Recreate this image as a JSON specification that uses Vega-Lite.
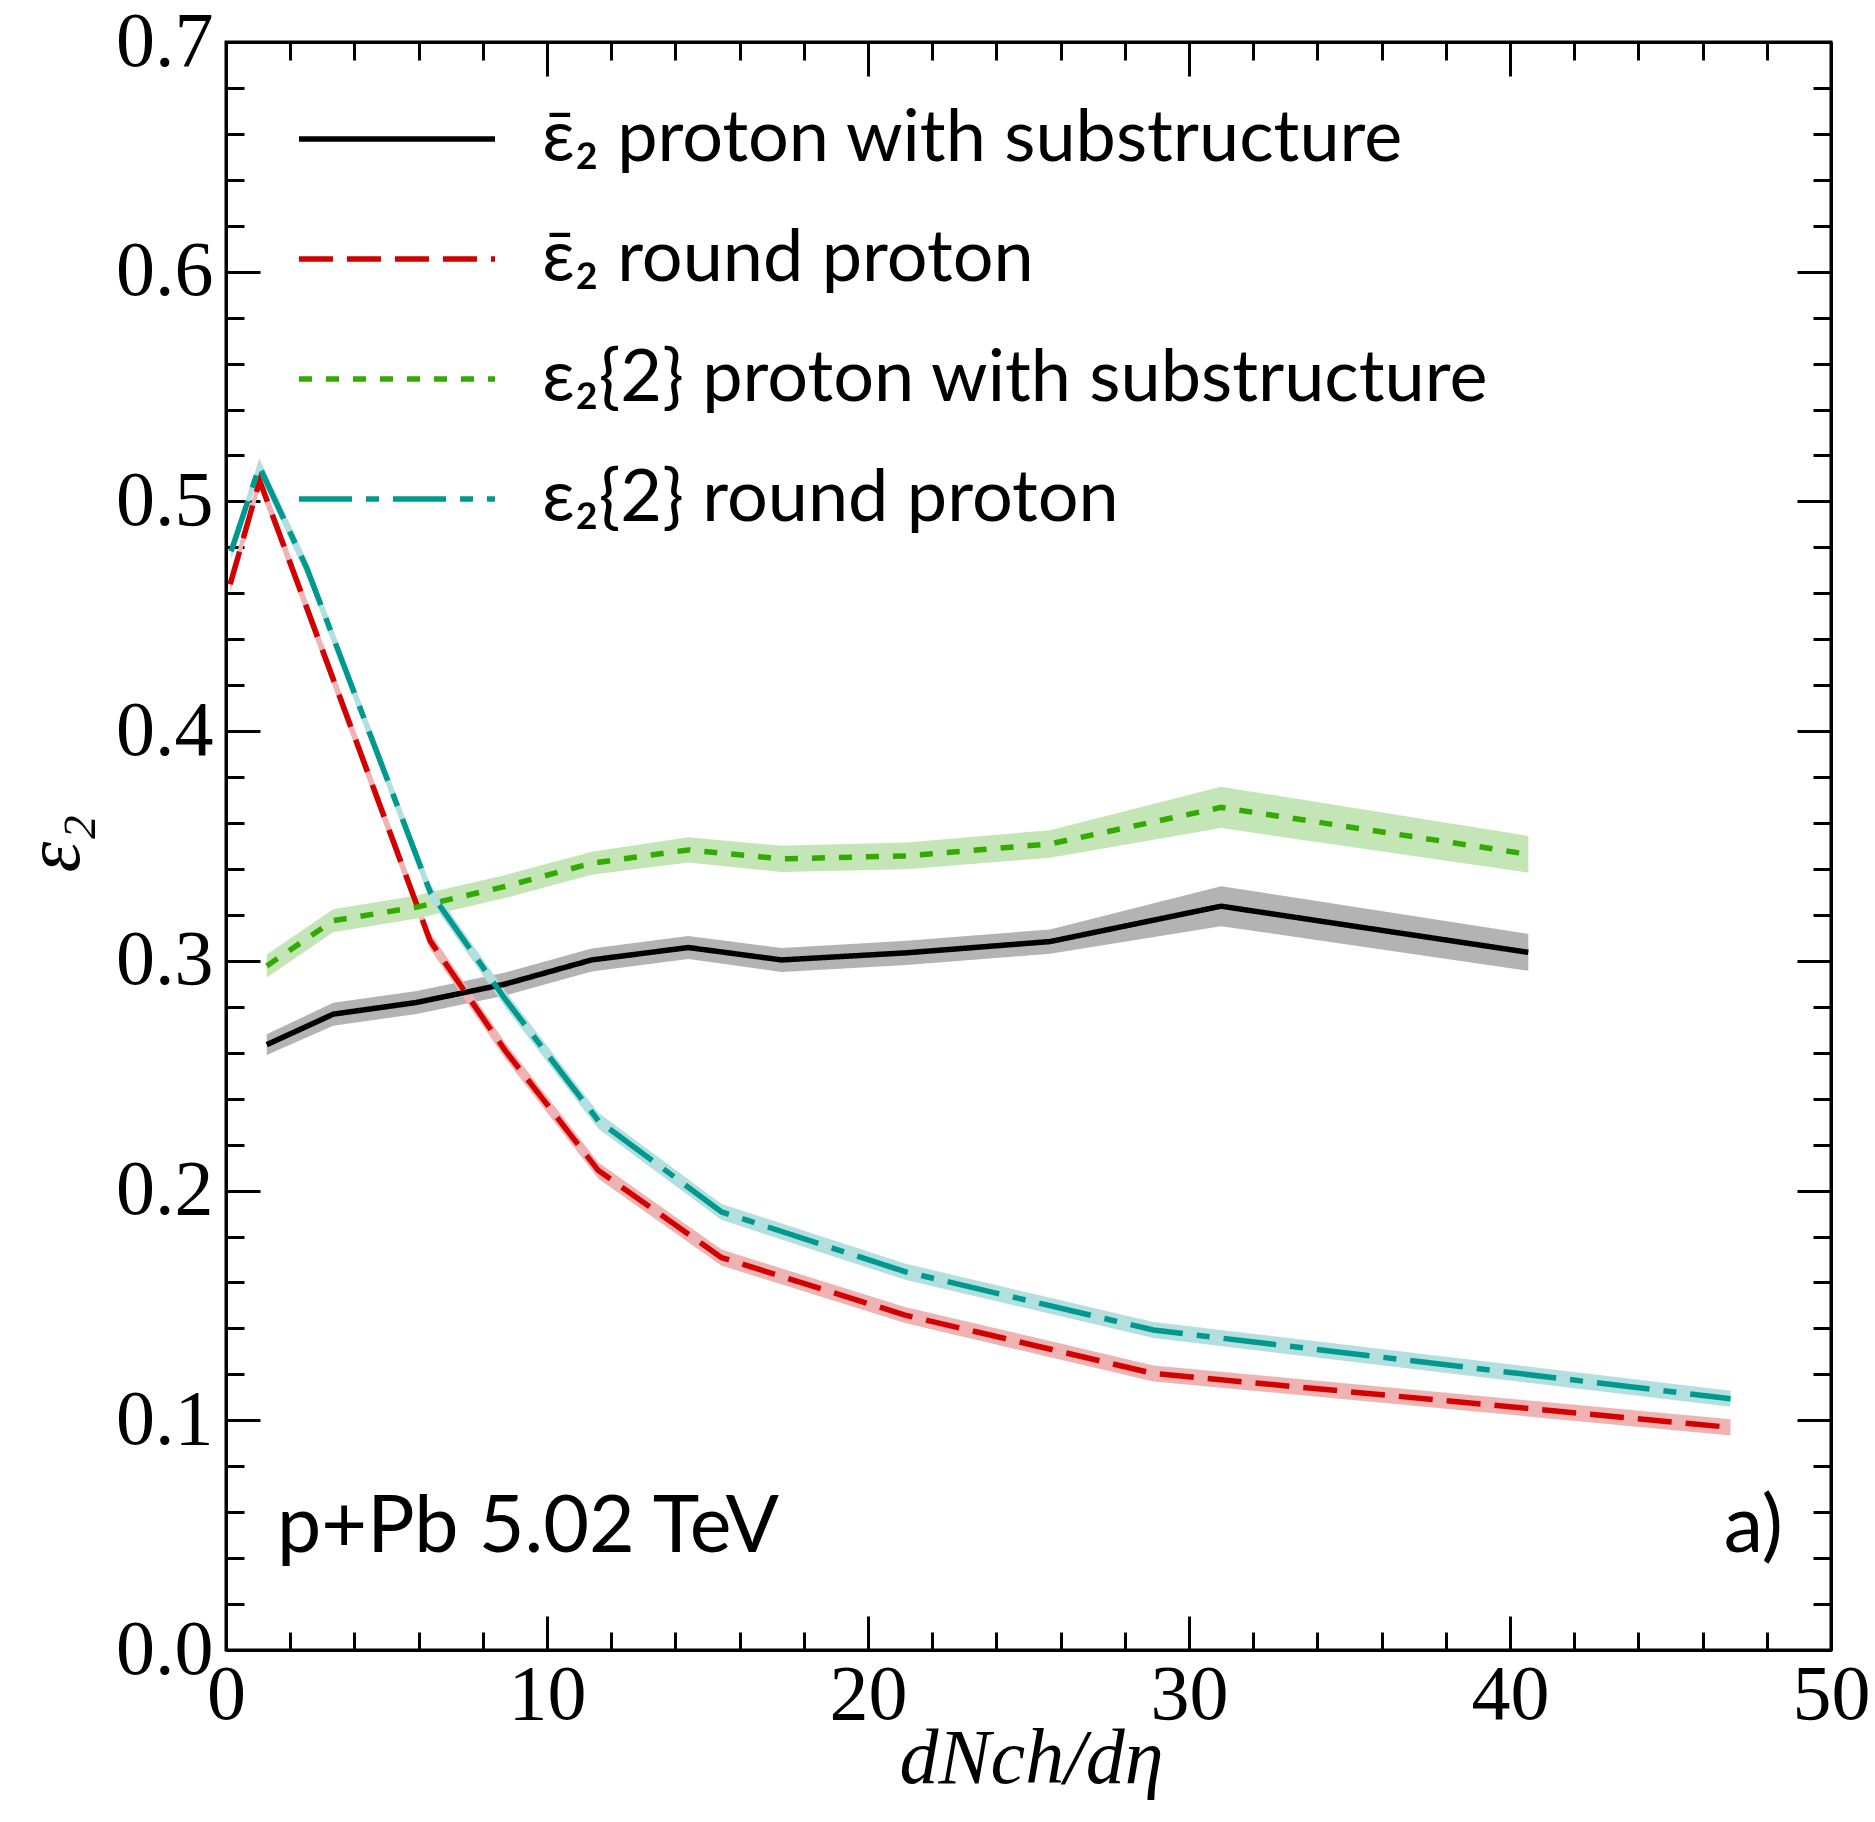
{
  "$schema": "https://vega.github.io/schema/vega-lite/v6.json",
  "width": 1605,
  "height": 1608,
  "autosize": {"type": "none"},
  "padding": {"left": 226, "top": 42, "right": 44, "bottom": 172},
  "background": "white",
  "config": {
    "view": {"stroke": "#000", "strokeWidth": 3},
    "axis": {
      "grid": false,
      "domainColor": "#000",
      "domainWidth": 3,
      "tickColor": "#000",
      "tickWidth": 3,
      "labelFont": "Liberation Serif",
      "labelFontSize": 78,
      "labelColor": "#000",
      "labelFlush": false,
      "labelOverlap": false,
      "labelBound": false,
      "titleFont": "Liberation Serif",
      "titleFontSize": 78,
      "titleFontStyle": "italic",
      "titleFontWeight": "normal",
      "titleColor": "#000"
    },
    "legend": {
      "orient": "top-left",
      "offset": 61,
      "padding": 0,
      "symbolType": "M-2.4,0H17.2",
      "symbolSize": 400,
      "symbolStrokeWidth": 5.5,
      "rowPadding": 48,
      "labelFont": "Lato",
      "labelFontSize": 72,
      "labelColor": "#000",
      "labelOffset": 183,
      "labelLimit": 2000
    }
  },
  "datasets": {
    "curves": [
      {"s": "ε̄₂ proton with substructure", "x": 1.27, "y": 0.2635, "lo": 0.259, "hi": 0.268},
      {"s": "ε̄₂ proton with substructure", "x": 3.34, "y": 0.2768, "lo": 0.2718, "hi": 0.2818},
      {"s": "ε̄₂ proton with substructure", "x": 5.94, "y": 0.2819, "lo": 0.2769, "hi": 0.2869},
      {"s": "ε̄₂ proton with substructure", "x": 8.7, "y": 0.2899, "lo": 0.2849, "hi": 0.2949},
      {"s": "ε̄₂ proton with substructure", "x": 11.39, "y": 0.3004, "lo": 0.2954, "hi": 0.3054},
      {"s": "ε̄₂ proton with substructure", "x": 14.4, "y": 0.3058, "lo": 0.3008, "hi": 0.3108},
      {"s": "ε̄₂ proton with substructure", "x": 17.31, "y": 0.3004, "lo": 0.2952, "hi": 0.3056},
      {"s": "ε̄₂ proton with substructure", "x": 21.2, "y": 0.3035, "lo": 0.2982, "hi": 0.3088},
      {"s": "ε̄₂ proton with substructure", "x": 25.67, "y": 0.3084, "lo": 0.3031, "hi": 0.3137},
      {"s": "ε̄₂ proton with substructure", "x": 31.0, "y": 0.3238, "lo": 0.3151, "hi": 0.3325},
      {"s": "ε̄₂ proton with substructure", "x": 40.57, "y": 0.3037, "lo": 0.2957, "hi": 0.3117},
      {"s": "ε̄₂ round proton", "x": 0.13, "y": 0.4639, "lo": 0.4604, "hi": 0.4674},
      {"s": "ε̄₂ round proton", "x": 1.05, "y": 0.509, "lo": 0.5055, "hi": 0.5125},
      {"s": "ε̄₂ round proton", "x": 6.36, "y": 0.3087, "lo": 0.3052, "hi": 0.3122},
      {"s": "ε̄₂ round proton", "x": 8.7, "y": 0.2609, "lo": 0.2574, "hi": 0.2644},
      {"s": "ε̄₂ round proton", "x": 11.6, "y": 0.2087, "lo": 0.2052, "hi": 0.2122},
      {"s": "ε̄₂ round proton", "x": 15.44, "y": 0.1708, "lo": 0.1673, "hi": 0.1743},
      {"s": "ε̄₂ round proton", "x": 21.15, "y": 0.1458, "lo": 0.1423, "hi": 0.1493},
      {"s": "ε̄₂ round proton", "x": 28.89, "y": 0.1204, "lo": 0.1169, "hi": 0.1239},
      {"s": "ε̄₂ round proton", "x": 46.87, "y": 0.0969, "lo": 0.0934, "hi": 0.1004},
      {"s": "ε₂{2} proton with substructure", "x": 1.27, "y": 0.2978, "lo": 0.2928, "hi": 0.3028},
      {"s": "ε₂{2} proton with substructure", "x": 3.34, "y": 0.3175, "lo": 0.3125, "hi": 0.3225},
      {"s": "ε₂{2} proton with substructure", "x": 5.94, "y": 0.3234, "lo": 0.3184, "hi": 0.3284},
      {"s": "ε₂{2} proton with substructure", "x": 8.7, "y": 0.3324, "lo": 0.3274, "hi": 0.3374},
      {"s": "ε₂{2} proton with substructure", "x": 11.39, "y": 0.3425, "lo": 0.3375, "hi": 0.3475},
      {"s": "ε₂{2} proton with substructure", "x": 14.4, "y": 0.3483, "lo": 0.3428, "hi": 0.3538},
      {"s": "ε₂{2} proton with substructure", "x": 17.31, "y": 0.3444, "lo": 0.3387, "hi": 0.3501},
      {"s": "ε₂{2} proton with substructure", "x": 21.2, "y": 0.3457, "lo": 0.3399, "hi": 0.3515},
      {"s": "ε₂{2} proton with substructure", "x": 25.67, "y": 0.3509, "lo": 0.3449, "hi": 0.3569},
      {"s": "ε₂{2} proton with substructure", "x": 31.0, "y": 0.3668, "lo": 0.3578, "hi": 0.3758},
      {"s": "ε₂{2} proton with substructure", "x": 40.57, "y": 0.3464, "lo": 0.3384, "hi": 0.3544},
      {"s": "ε₂{2} round proton", "x": 0.16, "y": 0.4783, "lo": 0.4748, "hi": 0.4818},
      {"s": "ε₂{2} round proton", "x": 1.04, "y": 0.5152, "lo": 0.5117, "hi": 0.5187},
      {"s": "ε₂{2} round proton", "x": 2.53, "y": 0.4705, "lo": 0.467, "hi": 0.474},
      {"s": "ε₂{2} round proton", "x": 6.36, "y": 0.33, "lo": 0.3265, "hi": 0.3335},
      {"s": "ε₂{2} round proton", "x": 8.7, "y": 0.2833, "lo": 0.2798, "hi": 0.2868},
      {"s": "ε₂{2} round proton", "x": 11.6, "y": 0.2304, "lo": 0.2269, "hi": 0.2339},
      {"s": "ε₂{2} round proton", "x": 15.44, "y": 0.1907, "lo": 0.1872, "hi": 0.1942},
      {"s": "ε₂{2} round proton", "x": 21.15, "y": 0.1647, "lo": 0.1612, "hi": 0.1682},
      {"s": "ε₂{2} round proton", "x": 28.89, "y": 0.1393, "lo": 0.1358, "hi": 0.1428},
      {"s": "ε₂{2} round proton", "x": 46.87, "y": 0.1094, "lo": 0.1059, "hi": 0.1129}
    ]
  },
  "layer": [
    {
      "data": {"name": "curves"},
      "transform": [{"filter": "datum.s == 'ε̄₂ proton with substructure'"}],
      "mark": {"type": "area", "color": "#b3b3b3", "opacity": 1},
      "encoding": {
        "x": {
          "field": "x", "type": "quantitative",
          "scale": {"domain": [0, 50], "nice": false, "zero": false},
          "axis": {
            "orient": "bottom", "values": [0, 10, 20, 30, 40, 50],
            "tickSize": -34, "labelPadding": 40,
            "title": "dNch/dη", "titleX": 805, "titleY": 132,
            "titleAlign": "center", "titleBaseline": "alphabetic", "titleAngle": 0
          }
        },
        "y": {
          "field": "lo", "type": "quantitative",
          "scale": {"domain": [0, 0.7], "nice": false, "zero": false},
          "axis": {
            "orient": "left", "values": [0, 0.1, 0.2, 0.3, 0.4, 0.5, 0.6, 0.7], "format": ".1f",
            "tickSize": -34, "labelPadding": 47,
            "title": "ε₂", "titleX": -171, "titleY": 801,
            "titleAlign": "center", "titleBaseline": "middle", "titleAngle": -90
          }
        },
        "y2": {"field": "hi"}
      }
    },
    {
      "data": {"name": "curves"},
      "transform": [{"filter": "datum.s == 'ε̄₂ round proton'"}],
      "mark": {"type": "area", "color": "#f0b3b3", "opacity": 1},
      "encoding": {
        "x": {"field": "x", "type": "quantitative", "axis": null},
        "y": {"field": "lo", "type": "quantitative", "axis": null},
        "y2": {"field": "hi"}
      }
    },
    {
      "data": {"name": "curves"},
      "transform": [{"filter": "datum.s == 'ε₂{2} proton with substructure'"}],
      "mark": {"type": "area", "color": "#c4e6b6", "opacity": 1},
      "encoding": {
        "x": {"field": "x", "type": "quantitative", "axis": null},
        "y": {"field": "lo", "type": "quantitative", "axis": null},
        "y2": {"field": "hi"}
      }
    },
    {
      "data": {"name": "curves"},
      "transform": [{"filter": "datum.s == 'ε₂{2} round proton'"}],
      "mark": {"type": "area", "color": "#b3e0de", "opacity": 1},
      "encoding": {
        "x": {"field": "x", "type": "quantitative", "axis": null},
        "y": {"field": "lo", "type": "quantitative", "axis": null},
        "y2": {"field": "hi"}
      }
    },
    {
      "data": {"name": "curves"},
      "mark": {"type": "line", "strokeWidth": 5.5},
      "encoding": {
        "x": {
          "field": "x", "type": "quantitative",
          "axis": {"orient": "top", "values": [0, 10, 20, 30, 40, 50], "tickSize": -34, "labels": false, "title": null}
        },
        "y": {
          "field": "y", "type": "quantitative",
          "axis": {"orient": "right", "values": [0, 0.1, 0.2, 0.3, 0.4, 0.5, 0.6, 0.7], "tickSize": -34, "labels": false, "title": null}
        },
        "color": {
          "field": "s", "type": "nominal", "title": null,
          "scale": {
            "domain": ["ε̄₂ proton with substructure", "ε̄₂ round proton", "ε₂{2} proton with substructure", "ε₂{2} round proton"],
            "range": ["#000000", "#d40000", "#33aa00", "#00998f"]
          }
        },
        "strokeDash": {
          "field": "s", "type": "nominal", "title": null,
          "scale": {
            "domain": ["ε̄₂ proton with substructure", "ε̄₂ round proton", "ε₂{2} proton with substructure", "ε₂{2} round proton"],
            "range": [[1, 0], [34, 14], [13, 14], [53, 14, 13, 14]]
          }
        }
      }
    },
    {
      "data": {"values": [{"x": 1.59, "y": 0.0427, "t": "p+Pb 5.02 TeV"}]},
      "mark": {"type": "text", "align": "left", "baseline": "alphabetic", "font": "Lato", "fontSize": 79, "color": "#000"},
      "encoding": {
        "x": {
          "field": "x", "type": "quantitative",
          "axis": {"orient": "bottom", "values": [2, 4, 6, 8, 12, 14, 16, 18, 22, 24, 26, 28, 32, 34, 36, 38, 42, 44, 46, 48], "tickSize": -18, "labels": false, "domain": false, "title": null}
        },
        "y": {
          "field": "y", "type": "quantitative",
          "axis": {"orient": "left", "values": [0.02, 0.04, 0.06, 0.08, 0.12, 0.14, 0.16, 0.18, 0.22, 0.24, 0.26, 0.28, 0.32, 0.34, 0.36, 0.38, 0.42, 0.44, 0.46, 0.48, 0.52, 0.54, 0.56, 0.58, 0.62, 0.64, 0.66, 0.68], "tickSize": -18, "labels": false, "domain": false, "title": null}
        },
        "text": {"field": "t"}
      }
    },
    {
      "data": {"values": [{"x": 48.5, "y": 0.0427, "t": "a)"}]},
      "mark": {"type": "text", "align": "right", "baseline": "alphabetic", "font": "Lato", "fontSize": 79, "color": "#000"},
      "encoding": {
        "x": {
          "field": "x", "type": "quantitative",
          "axis": {"orient": "top", "values": [2, 4, 6, 8, 12, 14, 16, 18, 22, 24, 26, 28, 32, 34, 36, 38, 42, 44, 46, 48], "tickSize": -18, "labels": false, "domain": false, "title": null}
        },
        "y": {
          "field": "y", "type": "quantitative",
          "axis": {"orient": "right", "values": [0.02, 0.04, 0.06, 0.08, 0.12, 0.14, 0.16, 0.18, 0.22, 0.24, 0.26, 0.28, 0.32, 0.34, 0.36, 0.38, 0.42, 0.44, 0.46, 0.48, 0.52, 0.54, 0.56, 0.58, 0.62, 0.64, 0.66, 0.68], "tickSize": -18, "labels": false, "domain": false, "title": null}
        },
        "text": {"field": "t"}
      }
    }
  ],
  "resolve": {"axis": {"x": "independent", "y": "independent"}}
}
